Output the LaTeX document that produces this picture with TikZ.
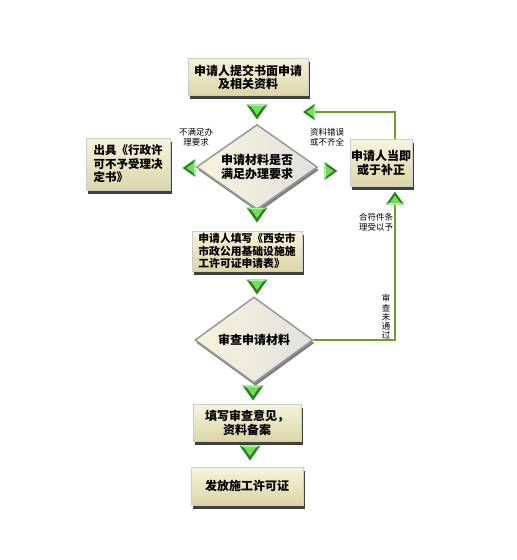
\documentclass[tikz,border=0pt]{standalone}
\usepackage{fontspec}
\setmainfont{Noto Sans CJK SC}
\usetikzlibrary{shapes.geometric,shadows}
\definecolor{creamA}{RGB}{246,244,220}
\definecolor{creamB}{RGB}{218,214,168}
\definecolor{gline}{RGB}{110,160,40}
\definecolor{gdark}{RGB}{40,130,30}
\definecolor{glight}{RGB}{120,220,90}
\tikzset{
  box/.style={draw=black!20, line width=0.5pt, top color=creamA, bottom color=creamB,
    font=\bfseries\fontsize{12}{14}\selectfont, align=center, inner sep=0pt,
    drop shadow={shadow xshift=1.5pt, shadow yshift=-3.5pt, fill=black!75, opacity=1}},
  dia/.style={diamond, draw=black!40, line width=1.5pt, left color=creamA, right color=black!12,
    font=\bfseries\fontsize{12}{14}\selectfont, align=center, inner sep=0pt, aspect=1.4,
    drop shadow={shadow xshift=1.5pt, shadow yshift=-3pt, fill=black!50, opacity=1}},
  lab/.style={font=\fontsize{8.5}{10}\selectfont, align=center, inner sep=0pt},
  conn/.style={draw=gline, line width=1.2pt},
  gtri/.pic={
    \fill[gdark] (-10.5,-7.5) -- (10.5,-7.5) -- (0,7.5) -- cycle;
    \fill[glight] (-6,-5.5) -- (6,-5.5) -- (0,3) -- cycle;
    \fill[green!40!white] (-10.5,-7.5) -- (10.5,-7.5) -- (6,-5.5) -- (-6,-5.5) -- cycle;
  }
}
\begin{document}
\begin{tikzpicture}[x=1pt,y=-1pt]
\fill[white] (0,0) rectangle (517,560);
\useasboundingbox (0,0) rectangle (517,560);

% main boxes
\node[box, minimum width=120, minimum height=37] (b1) at (248,77) {申请人提交书面申请\\[-1pt]及相关资料};
\node[dia, minimum width=121, minimum height=85] (d1) at (257,167) {申请材料是否\\满足办理要求};
\node[box, minimum width=84, minimum height=52, align=left, font=\bfseries\fontsize{11.5}{13.5}\selectfont] (lb) at (128,164) {出具《行政许\\可不予受理决\\定书》};
\node[box, minimum width=62, minimum height=47] (rb) at (381,163) {申请人当即\\或于补正};
\node[box, minimum width=110, minimum height=40, align=left, font=\bfseries\fontsize{10.8}{12.5}\selectfont] (b3) at (247,251) {申请人填写《西安市\\市政公用基础设施施\\工许可证申请表》};
\node[dia, minimum width=118, minimum height=86] (d2) at (254,340) {审查申请材料};
\node[box, minimum width=108, minimum height=37] (b4) at (247,423) {填写审查意见，\\资料备案};
\node[box, minimum width=112, minimum height=38] (b5) at (247,486) {发放施工许可证};

% green arrows
\pic at (257,112) {gtri};
\pic at (257,215) {gtri};
\pic at (257,287) {gtri};
\pic at (253,393) {gtri};
\pic at (250,453) {gtri};
\pic[rotate=-90, scale=0.85] at (189,168) {gtri};
\pic[rotate=90, scale=0.85] at (331,171) {gtri};
\pic[rotate=-90, scale=0.8] at (309,112) {gtri};
\pic[rotate=180, scale=0.85] at (395,198) {gtri};

% connectors
\coordinate (c1) at (395,112);
\coordinate (t1) at (315,112);
\coordinate (t2) at (395,205);
\draw[conn] (rb.north -| c1) |- (t1);
\draw[conn] (t2) |- (d2.east);

% labels
\node[lab] (l1) at (196,137) {不满足办\\理要求};
\node[lab] (l2) at (327,137) {资料错误\\或不齐全};
\node[lab] (l3) at (376,222) {合符件条\\理受以予};
\node[lab, font=\fontsize{8.5}{9.3}\selectfont] (l4) at (386,317) {审\\查\\未\\通\\过};
\end{tikzpicture}
\end{document}
